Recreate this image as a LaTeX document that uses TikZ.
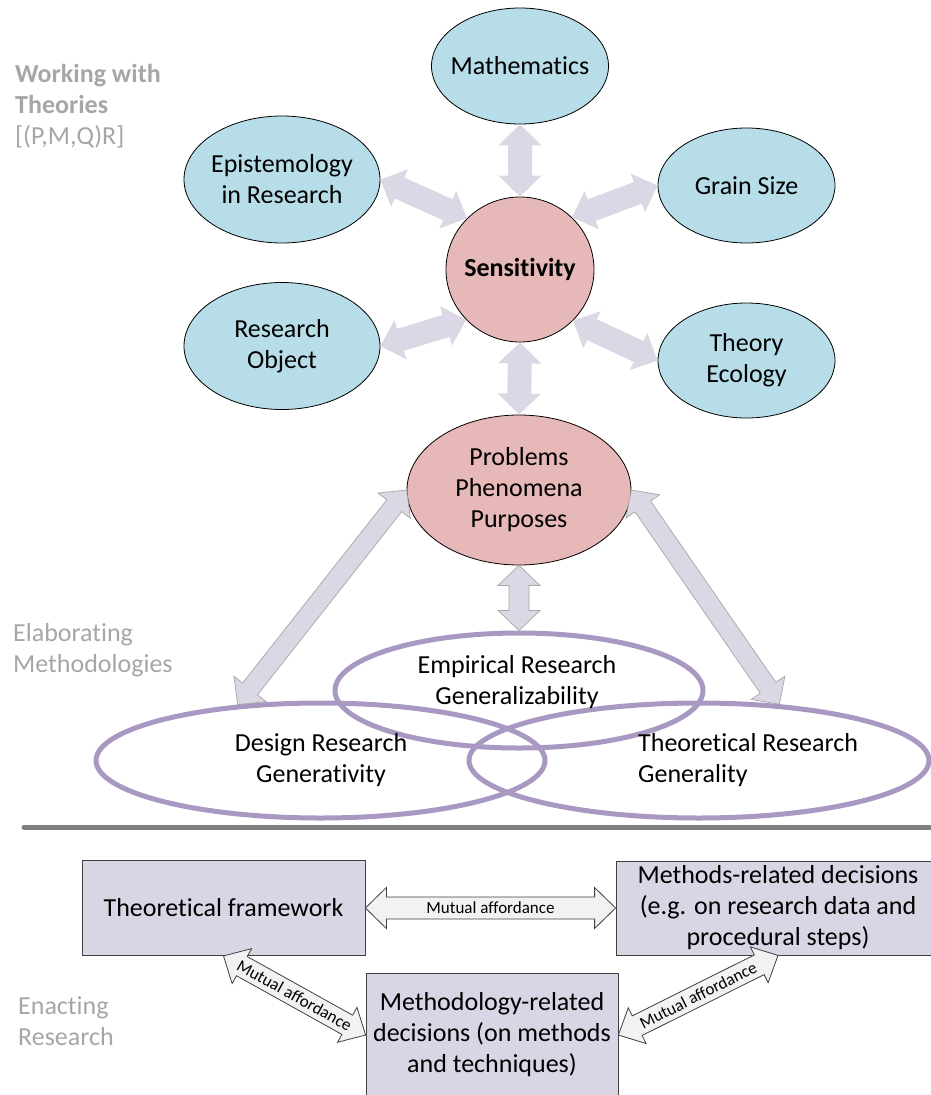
\documentclass[tikz,border=0pt]{standalone}
\usepackage{fontspec}
\setmainfont{Carlito}[Ligatures=NoCommon]
\usetikzlibrary{shapes.geometric,calc}
\definecolor{bluefill}{HTML}{B7DDE8}
\definecolor{pinkfill}{HTML}{E6B9B8}
\definecolor{arrowfill}{HTML}{DBD7E5}
\definecolor{ringcol}{HTML}{A898C2}
\definecolor{boxfill}{HTML}{DAD5E4}
\definecolor{labelgray}{HTML}{A6A6A6}
\definecolor{rulegray}{HTML}{808080}
% fat double arrow: #1 style, #2 from, #3 to, #4 half shaft, #5 half head, #6 head length
\newcommand\dblarrow[6]{%
 \path[#1] (#2)
  -- ($(#2)!#6!(#3)!#5!90:(#3)$) -- ($(#2)!#6!(#3)!#4!90:(#3)$)
  -- ($(#3)!#6!(#2)!#4!-90:(#2)$) -- ($(#3)!#6!(#2)!#5!-90:(#2)$)
  -- (#3)
  -- ($(#3)!#6!(#2)!#5!90:(#2)$) -- ($(#3)!#6!(#2)!#4!90:(#2)$)
  -- ($(#2)!#6!(#3)!#4!-90:(#3)$) -- ($(#2)!#6!(#3)!#5!-90:(#3)$)
  -- cycle;}
\begin{document}
\begin{tikzpicture}[x=1pt,y=-1pt,
  every node/.style={font=\fontsize{26}{31}\selectfont},
  bubble/.style={ellipse, draw=black, line width=0.8pt, fill=bluefill, inner sep=-8pt, align=center},
  core/.style={ellipse, draw=black, line width=0.8pt, fill=pinkfill, inner sep=-8pt, align=center},
  ring/.style={ellipse, draw=ringcol, line width=5pt, inner sep=0pt},
  decision/.style={rectangle, draw=black!75, line width=0.8pt, fill=boxfill, inner sep=0pt, align=center},
  softarrow/.style={fill=arrowfill},
  edgedarrow/.style={fill=arrowfill, draw=black!35, line width=0.7pt},
  boxarrow/.style={fill=black!5, draw=black!75, line width=0.8pt},
  sidelabel/.style={text=labelgray, align=left, anchor=north west, inner sep=0pt},
  ringtext/.style={align=center, inner sep=0pt},
  smalltext/.style={font=\fontsize{17}{20}\selectfont, inner sep=0pt}]
\useasboundingbox (0,0) rectangle (931,1095);

% side labels
\node[sidelabel] (lab1) at (15,64) {\textbf{Working with}\\\textbf{Theories}\\{[(P,M,Q)R]}};
\node[sidelabel] (lab2) at (13,623) {Elaborating\\Methodologies};
\node[sidelabel] (lab3) at (18,996) {Enacting\\Research};

% theory nodes
\node[bubble, minimum width=177pt, minimum height=116pt] (math) at (520,66) {Mathematics};
\node[bubble, minimum width=196pt, minimum height=127pt] (epi) at (282,179.5) {Epistemology\\in Research};
\node[bubble, minimum width=196pt, minimum height=127pt] (ro) at (282,346) {Research\\Object};
\node[bubble, minimum width=177pt, minimum height=115pt] (grain) at (746.5,185.5) {Grain Size};
\node[bubble, minimum width=177pt, minimum height=115pt] (eco) at (746.5,360.5) {Theory\\Ecology};
\node[core, minimum width=148pt, minimum height=145pt] (sens) at (520,269.5) {\bfseries Sensitivity};
\node[core, minimum width=224pt, minimum height=150pt] (prob) at (519,490) {Problems\\Phenomena\\Purposes};

\dblarrow{softarrow}{math.south}{sens.north}{12pt}{21.5pt}{21pt}
\dblarrow{softarrow}{epi.east}{sens.136}{11.5pt}{20.5pt}{21pt}
\dblarrow{softarrow}{ro.east}{sens.223}{11.5pt}{20.5pt}{21pt}
\dblarrow{softarrow}{sens.45}{grain.west}{11.5pt}{20.5pt}{21pt}
\dblarrow{softarrow}{sens.316}{eco.west}{11.5pt}{20.5pt}{21pt}
\dblarrow{softarrow}{sens.south}{prob.north}{12pt}{21.5pt}{21pt}

% methodology rings
\node[ring, minimum width=368pt, minimum height=115pt] (eres) at (519,690.5) {};
\node[ring, minimum width=449pt, minimum height=115pt] (dres) at (320.5,760.5) {};
\node[ring, minimum width=460pt, minimum height=115pt] (tres) at (699,760.5) {};
\node[ringtext] (eres-t) at (517,682) {Empirical Research\\Generalizability};
\node[ringtext] (dres-t) at (321,760) {Design Research\\Generativity};
\node[ringtext, align=left, anchor=west] (tres-t) at (638,760) {Theoretical Research\\Generality};

\dblarrow{edgedarrow}{prob.south}{eres.north}{10pt}{21pt}{20pt}
\dblarrow{edgedarrow}{prob.west}{dres.146}{9.5pt}{20.5pt}{20pt}
\dblarrow{edgedarrow}{prob.east}{tres.35}{9.5pt}{20.5pt}{20pt}

% separator
\draw[rulegray, line width=5pt, line cap=round] (24,827) -- (940,827);

% enacting research
\node[decision, minimum width=283pt, minimum height=95pt] (tf) at (223.5,908) {Theoretical framework};
\node[decision, minimum width=324pt, minimum height=94pt] (mrd) at (778,908) {Methods-related decisions\\(e.g. on research data and\\procedural steps)};
\node[decision, minimum width=252pt, minimum height=124pt] (mtd) at (492,1035) {Methodology-related\\decisions (on methods\\and techniques)};

\dblarrow{boxarrow}{tf.east}{mrd.west}{11pt}{20.5pt}{21pt}
\path (tf.east) -- (mrd.west) node[midway, smalltext] (a1) {Mutual affordance};
\dblarrow{boxarrow}{tf.south}{mtd.west}{11pt}{20pt}{21pt}
\path (tf.south) -- (mtd.west) node[midway, sloped, smalltext] (a2) {Mutual affordance};
\dblarrow{boxarrow}{mtd.east}{mrd.south}{11pt}{20pt}{21pt}
\path (mtd.east) -- (mrd.south) node[midway, sloped, smalltext] (a3) {Mutual affordance};
\end{tikzpicture}
\end{document}
